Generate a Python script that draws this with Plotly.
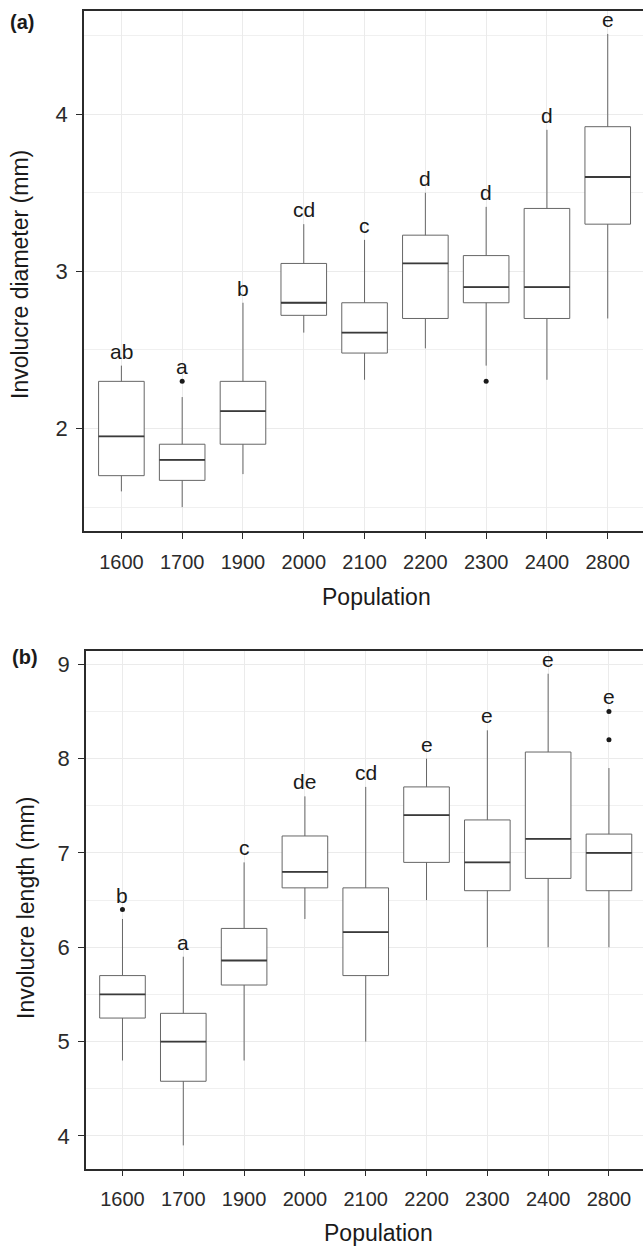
import plotly.graph_objects as go

# ---------------- data ----------------
populations = ["1600", "1700", "1900", "2000", "2100", "2200", "2300", "2400", "2800"]

# (a) Involucre diameter (mm)
diam_low = [1.60, 1.50, 1.71, 2.61, 2.31, 2.51, 2.40, 2.31, 2.70]
diam_q1 = [1.70, 1.67, 1.90, 2.72, 2.48, 2.70, 2.80, 2.70, 3.30]
diam_median = [1.95, 1.80, 2.11, 2.80, 2.61, 3.05, 2.90, 2.90, 3.60]
diam_q3 = [2.30, 1.90, 2.30, 3.05, 2.80, 3.23, 3.10, 3.40, 3.92]
diam_high = [2.40, 2.20, 2.80, 3.30, 3.20, 3.50, 3.41, 3.90, 4.51]
diam_outlier_pop = ["1700", "2300"]
diam_outlier_val = [2.30, 2.30]
diam_letters = ["ab", "a", "b", "cd", "c", "d", "d", "d", "e"]

# (b) Involucre length (mm)
len_low = [4.80, 3.90, 4.80, 6.30, 5.00, 6.50, 6.00, 6.00, 6.00]
len_q1 = [5.25, 4.58, 5.60, 6.63, 5.70, 6.90, 6.60, 6.73, 6.60]
len_median = [5.50, 5.00, 5.86, 6.80, 6.16, 7.40, 6.90, 7.15, 7.00]
len_q3 = [5.70, 5.30, 6.20, 7.18, 6.63, 7.70, 7.35, 8.07, 7.20]
len_high = [6.30, 5.90, 6.90, 7.60, 7.70, 8.00, 8.30, 8.90, 7.90]
len_outlier_pop = ["1600", "2800", "2800"]
len_outlier_val = [6.40, 8.50, 8.20]
len_letters = ["b", "a", "c", "de", "cd", "e", "e", "e", "e"]

# ---------------- styling ----------------
W, H = 643, 1247
FONT = "Liberation Sans"
BOX_LINE = "#666666"
MED_LINE = "#3a3a3a"
GRID = "#ebebeb"
AXIS = "#2b2b2b"
BOX_W = 0.75

idx = list(range(len(populations)))
pos = {p: i for i, p in enumerate(populations)}

fig = go.Figure()


def add_panel(xa, ya, low, q1, med, q3, high, out_pop, out_val, letters):
    xref = "x" if xa == "xaxis" else "x2"
    yref = "y" if ya == "yaxis" else "y2"
    fig.add_trace(go.Box(
        x=idx, q1=q1, median=med, q3=q3, lowerfence=low, upperfence=high,
        width=BOX_W, whiskerwidth=0, boxpoints=False,
        fillcolor="white", line=dict(color=BOX_LINE, width=1),
        xaxis=xref, yaxis=yref, showlegend=False, hoverinfo="skip",
    ))
    # darker median segments
    mx, my = [], []
    for i, m in zip(idx, med):
        mx += [i - BOX_W / 2, i + BOX_W / 2, None]
        my += [m, m, None]
    fig.add_trace(go.Scatter(
        x=mx, y=my, mode="lines", line=dict(color=MED_LINE, width=1.8),
        xaxis=xref, yaxis=yref, showlegend=False, hoverinfo="skip",
    ))
    # outliers
    fig.add_trace(go.Scatter(
        x=[pos[p] for p in out_pop], y=out_val, mode="markers",
        marker=dict(color="#1a1a1a", size=5, symbol="circle"),
        xaxis=xref, yaxis=yref, showlegend=False, hoverinfo="skip",
    ))
    # significance letters above the highest point of each group
    for i, p in enumerate(populations):
        top = max([high[i]] + [v for q, v in zip(out_pop, out_val) if q == p])
        fig.add_annotation(
            x=i, y=top, xref=xref, yref=yref, text=letters[i],
            showarrow=False, yanchor="bottom", yshift=1,
            font=dict(family=FONT, size=21, color="#1a1a1a"),
        )


add_panel("xaxis", "yaxis", diam_low, diam_q1, diam_median, diam_q3, diam_high,
          diam_outlier_pop, diam_outlier_val, diam_letters)
add_panel("xaxis2", "yaxis2", len_low, len_q1, len_median, len_q3, len_high,
          len_outlier_pop, len_outlier_val, len_letters)


def px_y(y):
    return 1 - y / H


def px_x(x):
    return x / W


xcommon = dict(
    tickmode="array", tickvals=idx, ticktext=populations,
    showgrid=True, gridcolor=GRID, gridwidth=1, zeroline=False,
    showline=True, linecolor=AXIS, linewidth=1.5, mirror=True,
    ticks="outside", ticklen=6, tickcolor=AXIS, tickwidth=1,
    tickfont=dict(family=FONT, size=20, color="#2b2b2b"),
    ticklabelstandoff=6,
)
ycommon = dict(
    dtick=1, showgrid=True, gridcolor=GRID, gridwidth=1, zeroline=False,
    showline=True, linecolor=AXIS, linewidth=1.5,
    ticks="outside", ticklen=6, tickcolor=AXIS, tickwidth=1,
    tickfont=dict(family=FONT, size=22, color="#2b2b2b"),
    ticklabelstandoff=4,
    minor=dict(dtick=0.5, showgrid=True, gridcolor="#f0f0f0", gridwidth=1, ticks=""),
)

fig.update_layout(
    width=W, height=H,
    margin=dict(l=0, r=0, t=0, b=0),
    paper_bgcolor="white", plot_bgcolor="white",
    font=dict(family=FONT, color="#1a1a1a"),
    xaxis=dict(xcommon, domain=[px_x(84), 1.0], range=[-0.615, 8.58], anchor="y"),
    yaxis=dict(ycommon, domain=[px_y(531), px_y(11)], range=[1.348, 4.656], anchor="x"),
    xaxis2=dict(xcommon, domain=[px_x(86), 1.0], range=[-0.6, 8.56], anchor="y2"),
    yaxis2=dict(ycommon, domain=[px_y(1168.7), px_y(650.7)], range=[3.653, 9.144], anchor="x2"),
)

# axis titles and panel tags
texts = [
    ("Involucre diameter (mm)", 20, 275, -90, 23, False),
    ("Involucre length (mm)", 26, 908, -90, 23, False),
    ("Population", 376, 597, 0, 23, False),
    ("Population", 378, 1233, 0, 23, False),
    ("(a)", 22, 22, 0, 20, True),
    ("(b)", 25, 657, 0, 20, True),
]
for t, x, y, ang, sz, bold in texts:
    fig.add_annotation(
        x=px_x(x), y=px_y(y), xref="paper", yref="paper",
        text=f"<b>{t}</b>" if bold else t, textangle=ang, showarrow=False,
        xanchor="center", yanchor="middle",
        font=dict(family=FONT, size=sz, color="#1a1a1a"),
    )

fig.write_html(
    "out.html",
    config={"displayModeBar": False},
    post_script="document.body.style.margin='0';document.body.style.overflow='hidden';",
)
